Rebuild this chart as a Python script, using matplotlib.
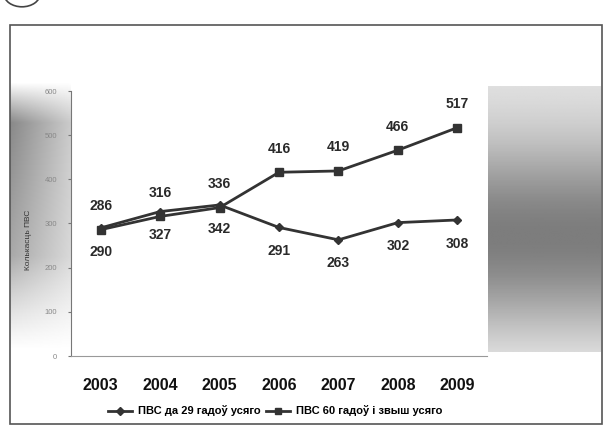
import numpy as np
import matplotlib.pyplot as plt
from matplotlib.patches import Rectangle, Circle
from matplotlib.lines import Line2D

years = ["2003", "2004", "2005", "2006", "2007", "2008", "2009"]
under_29 = [290, 327, 342, 291, 263, 302, 308]
over_60 = [286, 316, 336, 416, 419, 466, 517]
yticks = [0, 100, 200, 300, 400, 500, 600]
label_under = "ПВС да 29 гадоў усяго"
label_over = "ПВС 60 гадоў і звыш усяго"
ylabel = "Колькасць ПВС"

plt.rcParams['font.family'] = ['Liberation Sans', 'DejaVu Sans']

W, H = 613, 436
fig = plt.figure(figsize=(W / 100, H / 100), dpi=100)
fig.patch.set_facecolor("white")

def px(x0, y0, x1, y1):
  # pixel box (top-left origin) -> figure fraction rect
  return [x0 / W, 1 - y1 / H, (x1 - x0) / W, (y1 - y0) / H]

# scanned grey shading on both sides
gl = fig.add_axes(px(10, 82, 71, 350), zorder=0)
yy, xx = np.mgrid[0:1:200j, 0:1:60j]
vert = np.clip(np.minimum(yy / 0.15, (1 - yy) / 0.35), 0, 1)
shade = 1 - 0.5 * (1 - 0.55 * xx) * vert * (1 - 0.5 * yy)
gl.imshow(shade, cmap="gray", vmin=0, vmax=1, aspect="auto", interpolation="bilinear")
gl.axis("off")

gr = fig.add_axes(px(488, 86, 601, 352), zorder=0)
yy, xx = np.mgrid[0:1:200j, 0:1:60j]
vert = np.exp(-((yy - 0.58) / 0.38) ** 2)
shade = 1 - 0.5 * vert - 0.08 * np.clip(1 - yy * 1.5, 0, 1)
shade = np.clip(shade, 0, 1)
gr.imshow(shade, cmap="gray", vmin=0, vmax=1, aspect="auto", interpolation="bilinear")
gr.axis("off")

# outer frame and the cut-off circle at the top
fig.add_artist(Rectangle((10 / W, 1 - 424 / H), 592 / W, 399 / H, transform=fig.transFigure,
                         fill=False, edgecolor="#555555", lw=1.2))
fig.add_artist(Circle((22 / W, 1 + 6 / H), 18 / W, transform=fig.transFigure,
                      fill=False, edgecolor="#444444", lw=1.2))

ax = fig.add_axes(px(71, 91, 487, 356), zorder=2)
ax.set_facecolor("white")
x = np.arange(len(years))
col = "#333333"
ax.plot(x, under_29, color=col, lw=2, marker="D", ms=4, label=label_under)
ax.plot(x, over_60, color=col, lw=2, marker="s", ms=6, label=label_over)

for i in range(len(years)):
  ax.annotate(str(under_29[i]), (x[i], under_29[i]), xytext=(0, -17), textcoords="offset points",
              ha="center", va="center", fontsize=10, fontweight="bold", color="#2a2a2a")
  ax.annotate(str(over_60[i]), (x[i], over_60[i]), xytext=(0, 17), textcoords="offset points",
              ha="center", va="center", fontsize=10, fontweight="bold", color="#2a2a2a")

ax.set_xlim(-0.5, len(years) - 0.5)
ax.set_ylim(0, 600)
ax.set_yticks(yticks)
ax.set_yticklabels([str(v) for v in yticks], fontsize=5.5, color="#888888")
ax.set_xticks(x)
ax.set_xticklabels(years, fontsize=11.5, color="#111111", fontweight="bold")
ax.tick_params(axis="x", length=0, pad=16)
ax.tick_params(axis="y", length=2, color="#777777", pad=8)
for s in ["top", "right"]:
  ax.spines[s].set_visible(False)
ax.spines["left"].set_color("#777777")
ax.spines["bottom"].set_color("#999999")
ax.spines["bottom"].set_linestyle((0, (3, 1)))
ax.spines["bottom"].set_linewidth(0.8)

fig.text(28 / W, 1 - 240 / H, ylabel, rotation=90, ha="center", va="center",
         fontsize=6, color="#333333")

h1 = Line2D([], [], color=col, lw=2, marker="D", ms=4)
h2 = Line2D([], [], color=col, lw=2, marker="s", ms=5)
fig.legend([h1, h2], [label_under, label_over], loc="center", bbox_to_anchor=(275 / W, 1 - 411 / H),
           ncol=2, frameon=False, prop={"size": 8, "weight": "bold"}, handlelength=2.2,
           handletextpad=0.5, columnspacing=0.5)

fig.savefig("out.png", dpi=100)
